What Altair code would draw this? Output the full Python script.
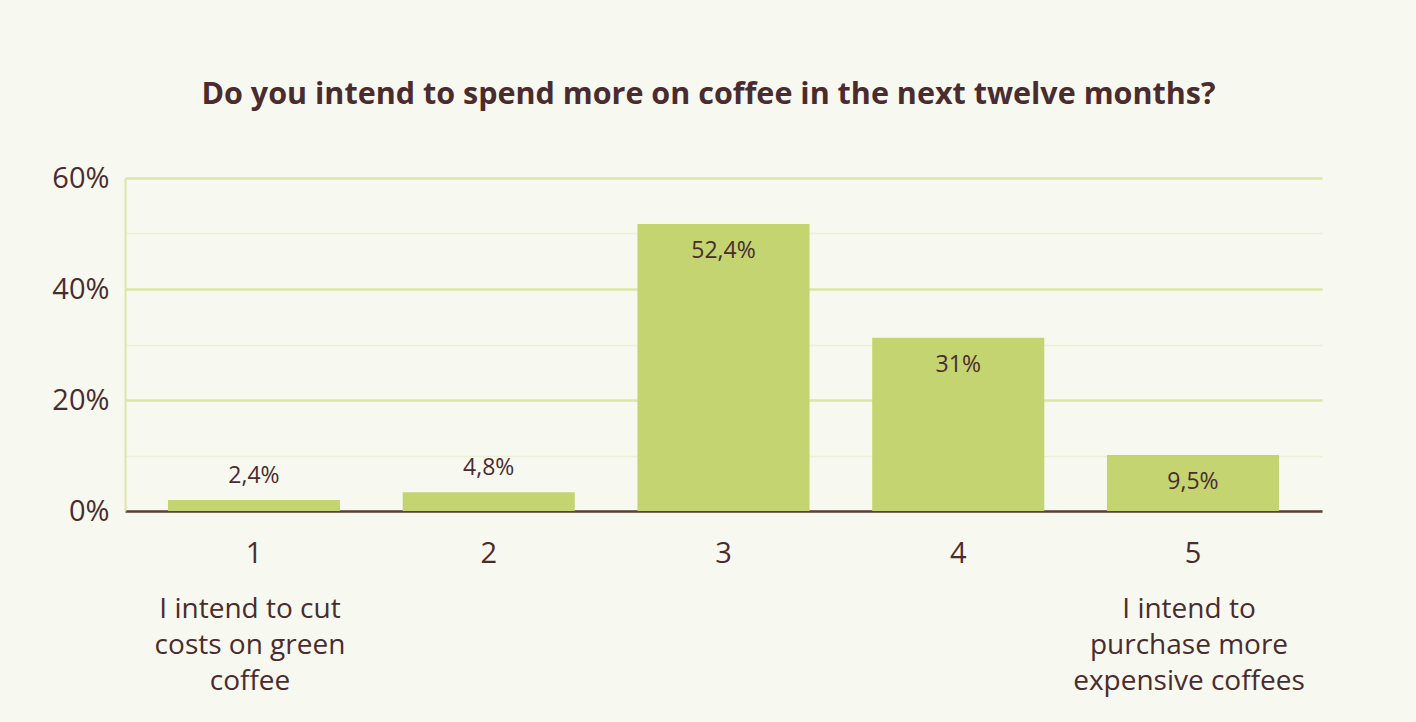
import altair as alt
import pandas as pd

categories = ["1", "2", "3", "4", "5"]
bar_values = [2.0, 3.4, 51.7, 31.2, 10.1]
value_labels = ["2,4%", "4,8%", "52,4%", "31%", "9,5%"]
descriptions = [
    "I intend to cut\ncosts on green\ncoffee",
    "",
    "",
    "",
    "I intend to\npurchase more\nexpensive coffees",
]
y_ticks = [0, 10, 20, 30, 40, 50, 60]
title_text = "Do you intend to spend more on coffee in the next twelve months?"

FONT = "Open Sans"
TXT = "#4A2C2F"
BAR = "#C3D470"
GRID_MAJOR = "#DDE6A6"
GRID_MINOR = "#ECF0D4"
BASE = "#5B4041"
BG = "#F7F8EF"

df = pd.DataFrame({"cat": categories, "val": bar_values, "lab": value_labels, "desc": descriptions})

W, H = 1197, 333

x_enc = alt.X(
    "cat:N",
    sort=categories,
    scale=alt.Scale(paddingInner=0.267, paddingOuter=0.183),
    axis=alt.Axis(
        title=None, labelAngle=0, labelFontSize=29, labelColor=TXT, labelFont=FONT,
        labelPadding=28, ticks=False, domainColor=BASE, domainWidth=2.5,
    ),
)
y_enc = alt.Y(
    "val:Q",
    scale=alt.Scale(domain=[0, 60], nice=False),
    axis=alt.Axis(
        values=y_ticks, title=None, ticks=False,
        labelExpr="datum.value % 20 == 0 ? datum.value + '%' : ''",
        labelFontSize=29, labelColor=TXT, labelFont=FONT, labelPadding=16,
        domainColor=GRID_MAJOR, domainWidth=2,
        gridColor={"condition": {"test": "datum.value % 20 == 0", "value": GRID_MAJOR}, "value": GRID_MINOR},
        gridWidth={"condition": {"test": "datum.value % 20 == 0", "value": 2.5}, "value": 1.5},
    ),
)

base = alt.Chart(df)
bars = base.mark_bar(color=BAR).encode(x=x_enc, y=y_enc)
above = base.transform_filter("datum.val < 5").mark_text(
    dy=-24, fontSize=23, font=FONT, color=TXT, baseline="middle"
).encode(x=alt.X("cat:N", sort=categories), y="val:Q", text="lab:N")
inside = base.transform_filter("datum.val >= 5").mark_text(
    dy=27, fontSize=23, font=FONT, color=TXT, baseline="middle"
).encode(x=alt.X("cat:N", sort=categories), y="val:Q", text="lab:N")
desc = base.mark_text(
    lineBreak="\n", fontSize=28, lineHeight=36, font=FONT, color=TXT, baseline="top", clip=False,
    dx=-4,
).encode(x=alt.X("cat:N", sort=categories), y=alt.value(418), text="desc:N")

chart = alt.layer(bars, above, inside, desc).properties(
    width=W, height=H,
    title=alt.TitleParams(
        title_text, fontSize=30.5, fontWeight="bold", color=TXT, font=FONT,
        anchor="middle", offset=54, dx=-15,
    ),
    autosize="none",
    padding={"left": 125, "top": 178, "right": 94, "bottom": 211},
    background=BG,
).configure_view(stroke=None)

chart.save("out.html", embed_options={"renderer": "svg", "actions": False})
